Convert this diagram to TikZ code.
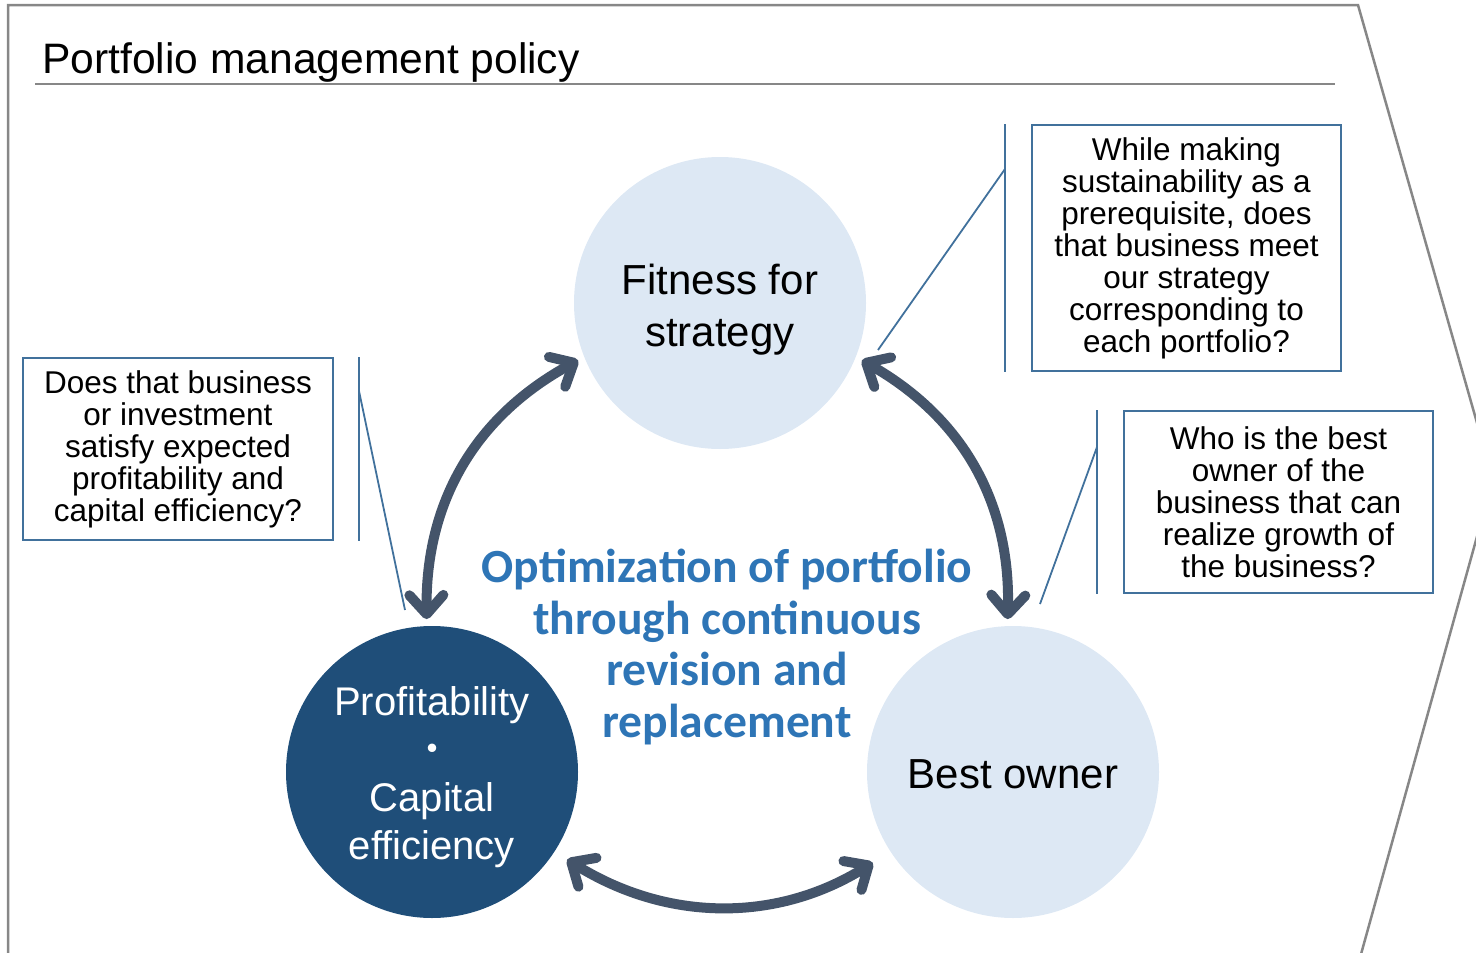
\documentclass[tikz,border=0pt]{standalone}
\usepackage{fontspec}
\setmainfont{Liberation Sans}
\newfontfamily\calib{Carlito}
\newfontfamily\cjkjp{Noto Sans CJK JP}
\usetikzlibrary{arrows.meta}
\definecolor{lightc}{HTML}{DDE8F4}
\definecolor{darkc}{HTML}{1F4E79}
\definecolor{arrc}{HTML}{44546A}
\definecolor{boxc}{HTML}{41719C}
\definecolor{centc}{HTML}{2E75B6}
\definecolor{framec}{HTML}{878787}
\begin{document}
\begin{tikzpicture}[x=1pt,y=1pt,
 bigcirc/.style={circle, minimum size=292pt, inner sep=0pt, outer sep=7pt},
 ctext/.style={inner sep=0pt, align=center, font=\fontsize{42}{52}\selectfont},
 qbox/.style={draw=boxc, line width=2pt, minimum width=310pt, inner sep=0pt, align=center, font=\fontsize{31.5}{32}\selectfont},
 calline/.style={draw=boxc, line width=1.8pt},
 cyc/.style={draw=arrc, line width=10pt, {Straight Barb[length=19pt,width=34pt,round]}-{Straight Barb[length=19pt,width=34pt,round]}},
 framel/.style={draw=framec, line width=2.5pt},
]
\useasboundingbox (0,0) rectangle (1476,-953);
\clip (0,0) rectangle (1476,-953);
% frame
\draw[framel] (8,-965) -- (8,-5) -- (1358,-5) -- (1493,-479) -- (1358,-965);
% title
\node[anchor=base west, inner sep=0pt, font=\fontsize{42.6}{50}\selectfont] (title) at (42,-73) {Portfolio management policy};
\draw[framel] (35,-84) -- (1335,-84);
% circles
\node[bigcirc, fill=lightc] (fit) at (720,-303) {};
\node[bigcirc, fill=darkc] (prof) at (432,-772) {};
\node[bigcirc, fill=lightc] (best) at (1013,-772) {};
\node[ctext] (fittext) at ([yshift=-7pt]fit.center) {Fitness for\\strategy};
\node[ctext, text=white, font=\fontsize{40}{48}\selectfont] (proftext) at ([yshift=-5pt]prof.center) {Profitability\\{\cjkjp ・}\\Capital\\efficiency};
\node[ctext] (besttext) at ([yshift=-2pt]best.center) {Best owner};
% centre text
\node[font=\calib\bfseries\fontsize{47.6}{51.7}\selectfont, text=centc, align=center, inner sep=0pt] (opt) at (727,-647) {Optimization of portfolio\\through continuous\\revision and\\replacement};
% question boxes
\node[qbox, minimum height=182pt] (qprof) at (178,-449) {Does that business\\or investment\\satisfy expected\\profitability and\\capital efficiency?};
\node[qbox, minimum width=309pt, minimum height=246pt] (qfit) at (1186.5,-248) {While making\\sustainability as a\\prerequisite, does\\that business meet\\our strategy\\corresponding to\\each portfolio?};
\node[qbox, minimum width=309pt, minimum height=182pt] (qbest) at (1278.5,-502) {Who is the best\\owner of the\\business that can\\realize growth of\\the business?};
% callout lines
\coordinate (tprof) at (405,-610);
\coordinate (tfit) at (878,-350);
\coordinate (tbest) at (1040,-604);
\draw[calline] ([xshift=25pt]qprof.north east) -- ([xshift=25pt]qprof.south east);
\draw[calline] ([xshift=25pt,yshift=-34pt]qprof.north east) -- (tprof);
\draw[calline] ([xshift=-26pt]qfit.north west) -- ([xshift=-26pt]qfit.south west);
\draw[calline] ([xshift=-26pt,yshift=-45pt]qfit.north west) -- (tfit);
\draw[calline] ([xshift=-26pt]qbest.north west) -- ([xshift=-26pt]qbest.south west);
\draw[calline] ([xshift=-26pt,yshift=-37pt]qbest.north west) -- (tbest);
% cycle arrows
\draw[cyc] (prof.92) to[bend left=31] (fit.202);
\draw[cyc] (fit.338) to[bend left=31] (best.92);
\draw[cyc, shorten <=8pt, shorten >=14pt] (prof.327) to[bend right=32] (best.213);
\end{tikzpicture}
\end{document}
